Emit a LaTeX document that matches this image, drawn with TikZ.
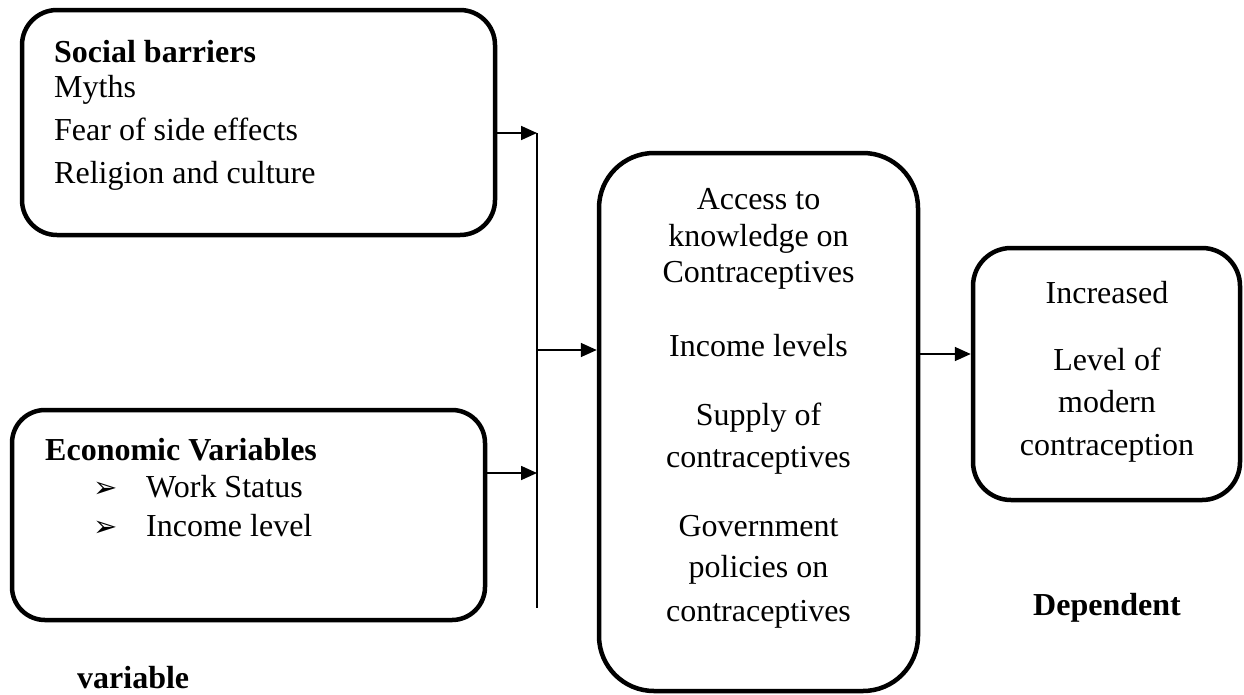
\documentclass[tikz,border=0pt]{standalone}
\usepackage{fontspec}
\setmainfont{Liberation Serif}
\newfontfamily\dingfont{DejaVu Sans}
\usetikzlibrary{arrows.meta,calc}
\def\pointer{{\dingfont\fontsize{29}{29}\selectfont ➢}}

\tikzset{
	box/.style={draw, line width=4.5pt, rounded corners=#1, inner sep=0pt},
	word/.style={font=\fontsize{32}{37}\selectfont, inner sep=0pt},
	heading/.style={word, font=\fontsize{32}{37}\selectfont\bfseries},
	feed/.style={line width=1.7pt, -{Triangle[length=16pt,width=14pt]}},
}

\begin{document}
\begin{tikzpicture}[x=1pt, y=-1pt]
		%%%%% START %%%%%
		\useasboundingbox (0, 0) rectangle (1244, 694);
		
		% the four boxes
		\node[box=35pt, minimum width=473pt, minimum height=225pt] (social) at (258.5, 122.5) {};
		\node[box=33pt, minimum width=473pt, minimum height=210pt] (economic) at (248.5, 515) {};
		\node[box=55pt, minimum width=319pt, minimum height=538pt] (factors) at (758.5, 422) {};
		\node[box=38pt, minimum width=267pt, minimum height=252pt] (outcome) at (1106.5, 374) {};
		
		% social barriers
		\node[heading, anchor=base west] (socialhd) at (54, 62) {Social barriers};
		\node[word, anchor=base west] (myths) at (54, 97) {Myths};
		\node[word, anchor=base west] (fear) at (54, 140) {Fear of side effects};
		\node[word, anchor=base west] (religion) at (54, 183) {Religion and culture};
		
		% economic variables
		\node[heading, anchor=base west] (ecohd) at (45, 460) {Economic Variables};
		\node[word, anchor=base west] (work) at (93, 497) {\makebox[53pt][l]{\pointer}Work Status};
		\node[word, anchor=base west] (inclevel) at (93, 536) {\makebox[53pt][l]{\pointer}Income level};
		\node[heading, anchor=base west] (variable) at (77, 688) {variable};
		
		% intervening factors
		\node[word, anchor=base] (access1) at (758.5, 209) {Access to};
		\node[word, anchor=base] (access2) at (758.5, 246) {knowledge on};
		\node[word, anchor=base] (access3) at (758.5, 282) {Contraceptives};
		\node[word, anchor=base] (income) at (758.5, 356) {Income levels};
		\node[word, anchor=base] (supply1) at (758.5, 425) {Supply of};
		\node[word, anchor=base] (supply2) at (758.5, 467) {contraceptives};
		\node[word, anchor=base] (govt1) at (758.5, 536) {Government};
		\node[word, anchor=base] (govt2) at (758.5, 577) {policies on};
		\node[word, anchor=base] (govt3) at (758.5, 621) {contraceptives};
		
		% outcome
		\node[word, anchor=base] (incr) at (1107, 303) {Increased};
		\node[word, anchor=base] (level1) at (1107, 370) {Level of};
		\node[word, anchor=base] (level2) at (1107, 412) {modern};
		\node[word, anchor=base] (level3) at (1107, 455) {contraception};
		\node[heading, anchor=base] (dependent) at (1107, 615) {Dependent};
		
		% collecting line and arrows
		\coordinate (jtop) at (537, 133);
		\coordinate (jeco) at (537, 473);
		\coordinate (jmid) at (537, 350);
		\coordinate (jbot) at (537, 608);
		\coordinate (fout) at (918, 354);
		
		\draw[line width=1.5pt] (jtop) -- (jbot);
		\draw[feed] (social.east |- jtop) -- (jtop);
		\draw[feed] (economic.east |- jeco) -- (jeco);
		\draw[feed] (jmid) -- (jmid -| factors.west);
		\draw[feed] (fout) -- (fout -| outcome.west);
		
		%%%%% END %%%%%
	\end{tikzpicture}
\end{document}
